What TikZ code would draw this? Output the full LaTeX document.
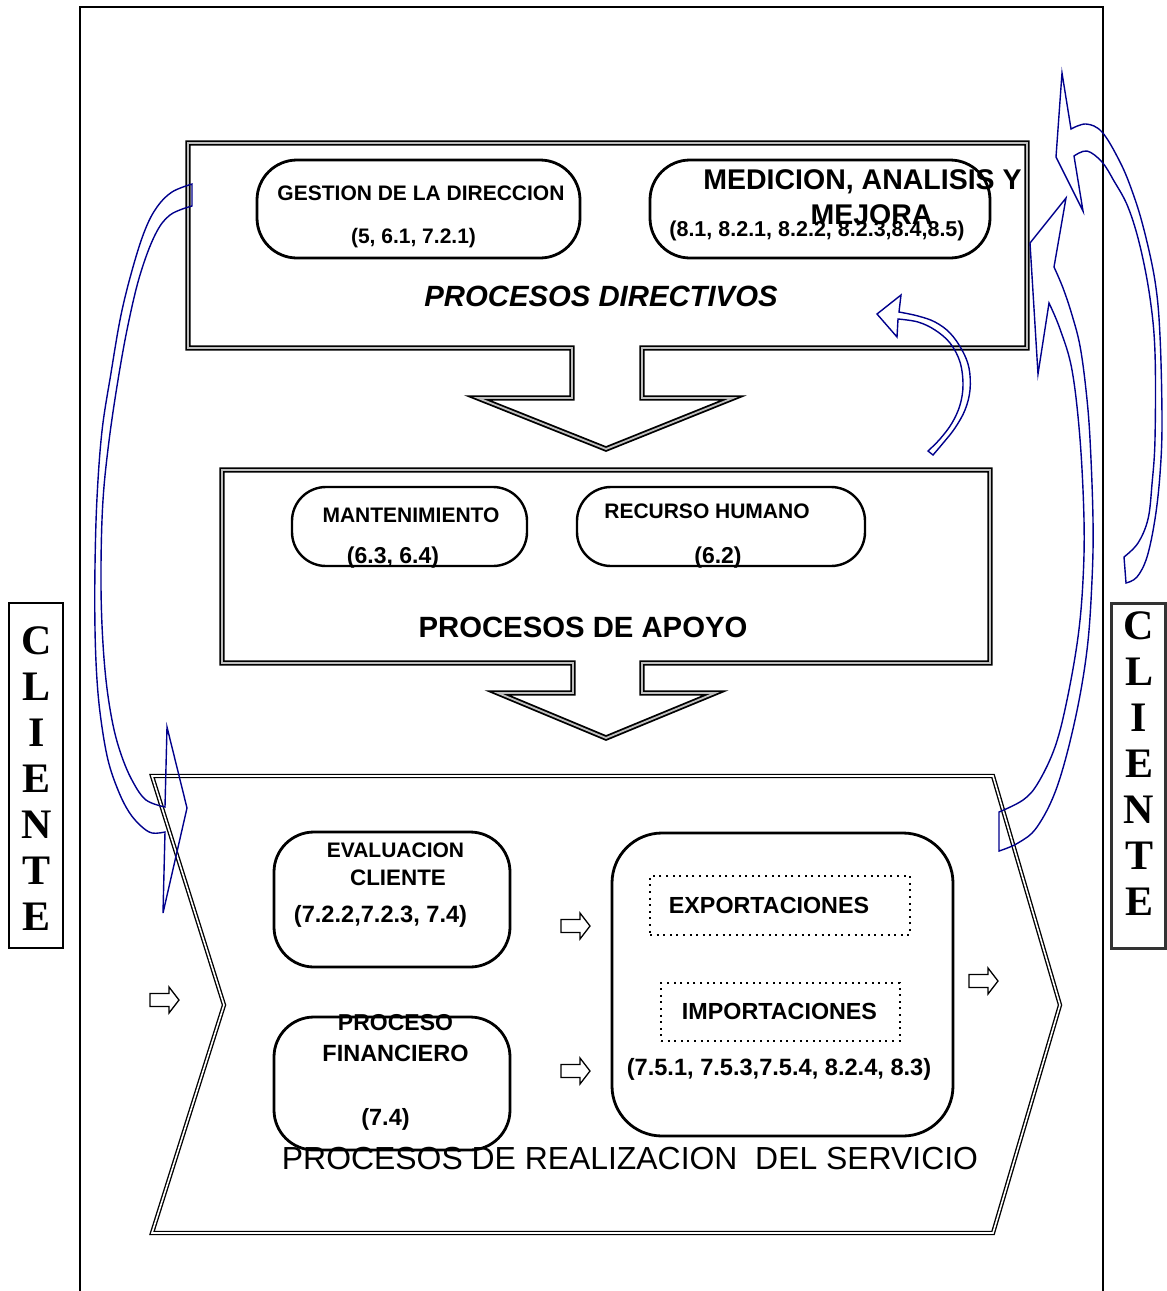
\documentclass[tikz,border=0pt]{standalone}
\usepackage{fontspec}
\setmainfont{Liberation Sans}
\newfontfamily\serifb{Liberation Serif}
\definecolor{navyb}{RGB}{0,0,140}
\newcommand\fsz[1]{\fontsize{#1}{#1}\selectfont}
\begin{document}
\begin{tikzpicture}[x=1pt,y=-1pt,
  dblframe/.style={draw=black, line width=1.8pt, double=gray!50, double distance=1.8pt, line join=miter},
  chev/.style={draw=black, line width=1.35pt, double=white, double distance=1.6pt, line join=miter},
  procbox/.style={draw=black, line width=2.8pt, inner sep=0pt},
  dotbox/.style={draw=black, line width=2pt, dash pattern=on 2pt off 4.6pt, inner sep=0pt},
  lbl/.style={anchor=base, inner sep=0pt},
  bluearr/.style={draw=navyb, line width=1.4pt, line join=miter},
  barrow/.pic={\draw[line width=1.3pt, fill=white] (0,-6.5)--(19,-6.5)--(19,-13)--(29,0)--(19,13)--(19,6.5)--(0,6.5)--cycle;}
]
\useasboundingbox (0,0) rectangle (1167,1291);
\fill[white] (0,0) rectangle (1167,1291);

% page frame
\draw[line width=1.6pt] (80,1291) -- (80,7) -- (1103,7) -- (1103,1291);

% process containers
\draw[dblframe] (188,143) -- (1027,143) -- (1027,348) -- (642,348) -- (642,398) -- (733,398) -- (606,449) -- (478,398) -- (572,398) -- (572,348) -- (188,348) -- cycle;
\draw[dblframe] (222,470) -- (990,470) -- (990,663) -- (642,663) -- (642,693) -- (715,693) -- (606,738) -- (498,693) -- (573,693) -- (573,663) -- (222,663) -- cycle;
\draw[chev] (152,776) -- (993,776) -- (1060,1005) -- (993,1233) -- (152,1233) -- (224,1005) -- cycle;

% rounded process boxes
\node[procbox, minimum width=323pt, minimum height=98pt, rounded corners=40pt] (gest) at (418.5,209) {};
\node[procbox, minimum width=340pt, minimum height=98pt, rounded corners=40pt] (med) at (820,209) {};
\node[procbox, line width=2.4pt, minimum width=235pt, minimum height=79pt, rounded corners=34pt] (mant) at (409.5,526.5) {};
\node[procbox, line width=2.4pt, minimum width=288pt, minimum height=79pt, rounded corners=34pt] (rec) at (721,526.5) {};
\node[procbox, minimum width=236pt, minimum height=135pt, rounded corners=40pt] (eval) at (392,899.5) {};
\node[procbox, minimum width=236pt, minimum height=133pt, rounded corners=40pt] (fin) at (392,1083.5) {};
\node[procbox, minimum width=341pt, minimum height=303pt, rounded corners=50pt] (big) at (782.5,984.5) {};
\node[dotbox, minimum width=260pt, minimum height=59pt] (exp) at (780,905.5) {};
\node[dotbox, minimum width=239pt, minimum height=58pt] (imp) at (780.5,1012) {};

% texts
\node[lbl, font=\bfseries\fsz{21}] (t1) at (421,200.5) {GESTION DE LA DIRECCION};
\node[lbl, font=\bfseries\fsz{21}] (t2) at (413.5,243.5) {(5, 6.1, 7.2.1)};
\node[lbl, font=\bfseries\fsz{28.5}] (t3) at (862.5,189) {MEDICION, ANALISIS Y};
\node[lbl, font=\bfseries\fsz{28.5}] (t4) at (871.5,224) {MEJORA};
\node[lbl, font=\bfseries\fsz{21.5}] (t5) at (817,236.5) {(8.1, 8.2.1, 8.2.2, 8.2.3,8.4,8.5)};
\node[lbl, font=\bfseries\itshape\fsz{29.3}] (t6) at (601,306.5) {PROCESOS DIRECTIVOS};
\node[lbl, font=\bfseries\fsz{21}] (t7) at (411,522.5) {MANTENIMIENTO};
\node[lbl, font=\bfseries\fsz{23}] (t8) at (393,563) {(6.3, 6.4)};
\node[lbl, font=\bfseries\fsz{21}] (t9) at (707,518.5) {RECURSO HUMANO};
\node[lbl, font=\bfseries\fsz{23}] (t10) at (718,563) {(6.2)};
\node[lbl, font=\bfseries\fsz{29.3}] (t11) at (583,637.5) {PROCESOS DE APOYO};
\node[lbl, font=\bfseries\fsz{21}] (t12) at (395.5,857.5) {EVALUACION};
\node[lbl, font=\bfseries\fsz{22.4}] (t13) at (398,885) {CLIENTE};
\node[lbl, font=\bfseries\fsz{23.6}] (t14) at (380.5,922.5) {(7.2.2,7.2.3, 7.4)};
\node[lbl, font=\bfseries\fsz{23}] (t15) at (395.5,1030) {PROCESO};
\node[lbl, font=\bfseries\fsz{23.5}] (t16) at (395.5,1061.5) {FINANCIERO};
\node[lbl, font=\bfseries\fsz{23.5}] (t17) at (385.5,1125.5) {(7.4)};
\node[lbl, font=\bfseries\fsz{23.3}] (t18) at (769,913.5) {EXPORTACIONES};
\node[lbl, font=\bfseries\fsz{23.3}] (t19) at (779.5,1019.5) {IMPORTACIONES};
\node[lbl, font=\bfseries\fsz{23.6}] (t20) at (779,1075.5) {(7.5.1, 7.5.3,7.5.4, 8.2.4, 8.3)};
\node[lbl, font=\fsz{31.9}] (t21) at (630,1169.5) {PROCESOS DE REALIZACION\ \ DEL SERVICIO};

% small block arrows
\pic at (150,1000) {barrow};
\pic at (561,926) {barrow};
\pic at (561,1071) {barrow};
\pic at (969,981) {barrow};

% CLIENTE boxes
\node[draw=black, line width=2.8pt, minimum width=54pt, minimum height=345pt, inner sep=0pt] (cl) at (36,775.5) {};
\node[draw=black!80, line width=3pt, minimum width=54pt, minimum height=345pt, inner sep=0pt] (cr) at (1138,775.5) {};
\node[anchor=north, inner sep=0pt, align=center, font=\serifb\bfseries\fontsize{42}{46}\selectfont] (cltxt) at (37,626) {C\\L\\I\\E\\N\\T\\E};
\node[anchor=north, inner sep=0pt, align=center, font=\serifb\bfseries\fontsize{42}{46}\selectfont] (crtxt) at (1139,611) {C\\L\\I\\E\\N\\T\\E};

% blue curved arrows
\draw[bluearr] plot[smooth, tension=0.6] coordinates {(192,206) (170,215) (155,235) (140,275) (128,325) (118,380) (109,441) (103,500) (101,566) (102,625) (106,680) (113,725) (122,757) (133,782) (146,800) (165,807)} -- (167,727) -- (187,808) -- (163,913) -- (165,832) -- plot[smooth, tension=0.6] coordinates {(165,832) (152,833) (141,826) (129,812) (118,790) (108,760) (101,720) (97,680) (95,629) (95,566) (97,498) (102,431) (111,373) (121,315) (133,267) (145,230) (157,207) (172,192) (192,184)} -- cycle;

\draw[bluearr] (898,319) -- (897,337) -- (877,314) -- (901,295) -- (899,312) -- plot[smooth, tension=0.6] coordinates {(899,312) (918,316) (935,322) (950,333) (962,350) (969,368) (970,390) (965,410) (955,428) (944,442) (933,455)} -- (928,451) -- plot[smooth, tension=0.6] coordinates {(928,451) (940,439) (952,423) (960,405) (963,385) (960,362) (950,343) (935,330) (918,322) (898,319)} -- cycle;

\draw[bluearr] (1062,73) -- (1071,129) -- plot[smooth, tension=0.6] coordinates {(1071,129) (1086,124) (1102,132) (1119,160) (1131,188) (1143,226) (1155,281) (1160,336) (1162,422) (1160,474) (1155,519) (1147,557) (1137,577) (1126,583)} -- (1124,557) -- plot[smooth, tension=0.6] coordinates {(1124,557) (1138,543) (1148,519) (1152,484) (1155,439) (1155,353) (1150,298) (1140,246) (1128,207) (1114,181) (1102,162) (1087,151) (1074,156)} -- (1083,211) -- (1056,157) -- cycle;

\draw[bluearr] (1066,198) -- (1054,267) -- plot[smooth, tension=0.6] coordinates {(1054,267) (1063,288) (1072,315) (1080,346) (1086,390) (1090,439) (1093,520) (1092,580) (1087,650) (1075,720) (1057,787) (1037,827) (1018,843) (999,851)} -- (999,812) -- plot[smooth, tension=0.6] coordinates {(999,812) (1023,800) (1038,783) (1055,747) (1067,700) (1078,637) (1083,580) (1084,520) (1080,439) (1072,370) (1060,329) (1049,303)} -- (1038,374) -- (1030,243) -- cycle;
\end{tikzpicture}
\end{document}
